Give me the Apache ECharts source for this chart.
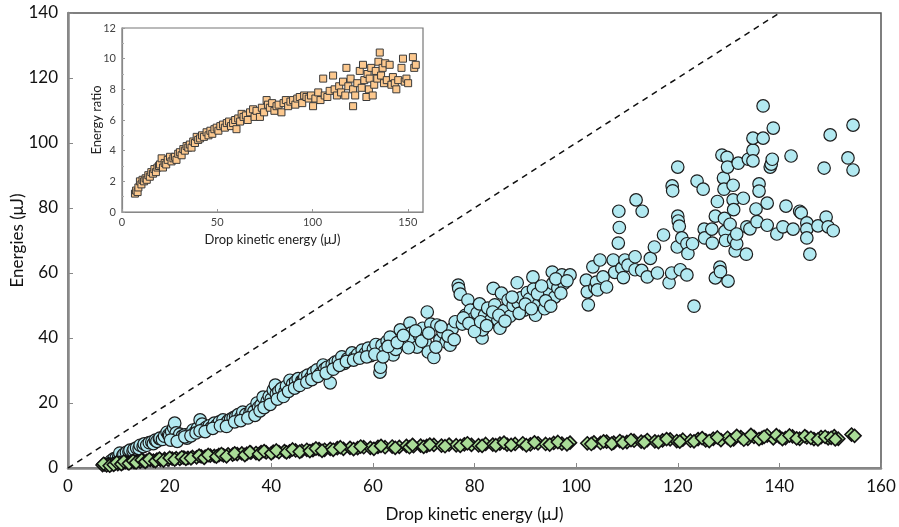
<!DOCTYPE html>
<html>
<head>
<meta charset="utf-8">
<script src="https://cdn.jsdelivr.net/npm/echarts@6/dist/echarts.min.js"></script>
<style>
  html, body { margin: 0; padding: 0; background: #fff; }
  #main { width: 899px; height: 527px; }
</style>
</head>
<body>
<div id="main"></div>
<script>
// main panel: light blue circles (upper cloud)
const circles = [
  [8.5,2.2],[9,2.8],[9.5,3.1],[10,3.5],[10.2,4.6],[10.8,3.8],[11,4.2],[11.5,4.8],[12,5],[12.2,5.5],[12.8,5.2],[13,5.8],
  [13.5,6.2],[14,6],[14.2,7],[14.8,6.6],[15,7.4],[15.5,7],[16,7.8],[16.5,8],[16.8,7.5],[17.2,8.6],[17.5,8.2],[18,9],
  [18.1,9.2],[18.6,8.8],[19,9.8],[19.5,11],[19.8,10.2],[20,10],[20.4,11.2],[20.8,12.4],[21,13.8],[21.3,10.8],[21.7,9.5],
  [22,10.4],[22.5,9.8],[23,10.2],[23.4,9.2],[24,10.6],[24.6,11.7],[25,11],[25.5,12.2],[26,14.8],[26.4,13.5],[26.8,12],
  [27.3,12.6],[27.8,13],[28.2,12.4],[28.8,13.8],[29.3,13.2],[29.8,14.2],[30.5,14.8],[31,13.6],[31.5,14.5],[32,15],
  [32.5,15.4],[33,15.8],[33.5,16.4],[34,15.6],[34.4,17.2],[35,16.5],[35.8,16.9],[36.2,18],[36.6,17.4],[37.2,20],
  [37.5,18.6],[38,19.4],[38.4,21.8],[38.8,19],[39.2,20.6],[39.6,22],[40,21.2],[40.4,24],[40.8,25.5],[41,22.8],
  [41.5,23.6],[42,24.4],[42.7,23.4],[43,25.2],[43.7,27],[44.2,25.8],[44.8,26.6],[45.3,27.5],[46,26.8],[46.3,27],
  [46.6,28],[47.2,28.6],[47.8,27.8],[48.3,29.4],[49,30.2],[49.6,29],[50.2,31.7],[50.5,30.4],[51,31],[51.6,26.2],
  [52,31.8],[52.6,32.6],[53.2,33],[53.9,34.2],[54.4,32.2],[55,33.6],[55.9,35.4],[56.4,34],[57,35],[57.9,36.3],
  [58.5,35.2],[59.1,36.9],[59.6,34.6],[60.1,36.6],[60.6,38],[61.4,29.5],[61.5,31],[61.8,37.8],[62.3,36],[62.8,39],
  [63.4,40.3],[64,34.8],[64.5,36.5],[65.4,42.5],[65.8,39.5],[66.4,38],[67.3,44.6],[67.5,41.5],[68,39.8],[68.7,37.2],
  [69.2,40.6],[69.8,43],[70.3,38.6],[70.7,48],[70.9,35.7],[71.4,44.3],[72,34],[72.6,44],[73.2,39.5],[73.8,41.8],
  [74.4,38.8],[75.2,37.8],[75.6,42.8],[76.2,45],[76.8,56.3],[76.9,55.2],[77.2,53.5],[77.6,44.3],[78.2,47],[78.7,51.7],
  [79.2,48.6],[79.8,46],[80.5,47.7],[81,50.5],[81.5,40],[81.6,42.5],[82,47],[82.6,49.2],[83.2,45.5],[83.7,55.3],
  [84,50.2],[84.6,45.5],[85,43],[85.3,53.8],[85.8,48.4],[86.6,51.7],[87,46.7],[87.6,50],[88.4,57],[88.6,50.8],
  [89.2,52.4],[89.8,48.6],[90.4,54],[90.8,52],[91.5,58.8],[91.6,55],[92,47],[92.6,50.4],[93.5,52.6],[93.8,49],
  [94.5,54.6],[95.3,60.3],[95.4,56.8],[95.8,52.6],[96.4,55.4],[97.2,59.4],[97.6,56.8],[98.8,59.4],
  [20.2,8.6],[21.5,8.2],[23,9.6],[24.2,9.9],[25.2,10.8],[26,11.4],[27,11.2],[28.5,12.2],[30,13],[31.2,12.8],
  [32.8,14.2],[34,14.6],[35.4,15.4],[36.8,16.2],[37.8,17.6],[38.6,18.6],[39.8,19.6],[41.2,21.2],[42.4,22],[43.4,23.6],
  [44.6,24.6],[45.6,25.4],[47,26.4],[48,27.2],[49.2,28.2],[50.8,29.2],[52.2,30.4],[53.4,31.6],[54.8,32.8],[56.2,33.2],
  [57.4,33.8],[58.8,34.2],[60.4,35],[62,34.2],[63,37.4],[64.8,38.6],[66,40.8],[67,37],[68.4,42.2],[69.6,39],[71,41.5],
  [72.4,37.2],[73.4,43.5],[74.8,40.6],[76,39.5],[77.8,46.2],[78.9,44.5],[80,42],[81.2,45],[82.4,43.8],[83.6,48],
  [84.8,47],[86,45.2],[87.4,52.6],[88.8,47.6],[90,50.4],[91.2,49],[92.4,53.6],[93.2,56],[94,51.4],[95,49.8],[96,58.2],
  [97,53.8],[98.2,57.6],
  [102,57.8],[102.2,54.2],[102.4,50.2],[103.3,61.9],[103.7,55.6],[104,57.2],[104.2,54.8],[104.7,64],[105.3,58.8],
  [106,55.7],[107.3,64],[107.6,60.2],[108.3,69.2],[108.4,79],[108.5,74],[109,61.5],[109.3,58.6],[109.6,64],
  [110.2,62.4],[111.6,65],[111.6,61],[111.8,82.5],[112.9,60.8],[113,79],[114,58.8],[114.6,64.5],[115.4,68],[116,60],
  [117.2,71.7],[118.3,57],[118.8,60],[118.9,86.8],[119,85.3],[119.9,68],[120,92.6],[120,77.5],[120.1,76],[120.3,74.4],
  [120.5,61],[120.8,70.8],[121.8,59.4],[121.8,69],[122,66],[122.9,69],[123.2,49.8],[123.8,88.3],[125,85.8],
  [125.2,73.5],[125.3,70.8],[126.7,73.5],[126.8,69.2],[127.4,77.5],[127.4,58.5],[127.8,82],[128.3,61.8],[128.4,60.4],
  [128.7,96.3],[129,89.2],[129.1,85.8],[129.2,76.8],[129.3,72.8],[129.4,70],[129.7,95.6],[129.8,92.6],[129.9,57.5],
  [130.3,75],[130.9,87],[130.9,82.5],[131,79.5],[131,70.5],[131.3,66.8],[131.6,69],[131.6,72],[131.9,93.8],[132.9,83],
  [133.5,65.8],[133.6,74.2],[133.9,95],[134.2,73.6],[134.8,97.8],[134.8,94.5],[134.8,101.5],[135.4,79.7],[135.6,75.8],
  [136,87.4],[136,85.2],[136.8,111.4],[136.8,101.5],[137.6,81.5],[137.6,74.7],[138.2,92.6],[138.4,93.5],[138.6,95],
  [138.8,104.6],[139.5,72],[140.7,74.2],[141.3,80.6],[142.3,96],[142.7,73.5],[144,79],[144.3,78.5],[145.4,75.4],
  [145.4,73.5],[145.4,70.8],[146,65.8],[147.6,74.5],[148.8,92.3],[149.2,77.2],[149.6,74.2],[150,102.5],[150.6,73],
  [153.5,95.4],[154.5,105.5],[154.5,91.7]
];

// main panel: green diamonds (lower band)
const diamonds = [
  [6.8,0.9],[7.2,1.1],[7.6,0.8],[8,1.2],[8.4,1.0],[8.8,1.3],[9.3,1.4],[9.8,1.2],[10.2,1.6],[10.8,1.5],[11.3,1.8],
  [11.8,1.6],[12.4,1.9],[13,1.8],[13.6,2.1],[14.2,2.0],[14.8,2.3],[15.5,2.2],[16.2,2.5],[16.8,2.3],[17.5,2.6],
  [18.2,2.5],[19,2.8],[19.7,2.6],[20.5,2.9],[21.3,3.0],[22,2.8],[22.8,3.2],[23.6,3.1],[24.5,3.4],[25.3,3.3],
  [26.2,3.6],[27,3.5],[28,3.8],[28.8,3.7],[29.7,4.0],[30.6,3.9],[31.5,4.2],[32.4,4.1],[33.3,4.3],[34.2,4.5],
  [35.2,4.4],[36,4.7],[37,4.6],[38,4.9],[39,4.8],[40.4,5.0],[41.5,4.9],[42.6,5.2],[43.6,5.1],[44.8,5.4],[46,5.3],
  [47,5.6],[48.2,5.5],[49.4,5.8],[50.5,5.6],[51.6,5.9],[53,6.1],[54.2,5.9],[55.5,6.2],[57,6.1],[58.2,6.4],[59.5,6.2],
  [61,6.5],[62.4,6.4],[63.8,6.6],[65.2,6.5],[66.6,6.8],[68,6.7],[69.4,6.9],[70.6,6.8],[72,7.1],[73.5,6.9],[75,7.2],
  [76.4,7.0],[78,7.3],[79.4,7.1],[80.8,7.0],[82.2,7.4],[83.6,7.2],[85,7.5],[86.4,7.2],[88,7.4],[89.5,7.6],[91,7.3],
  [92.5,7.6],[94,7.4],[95.6,7.7],[97.2,7.5],[98.8,7.8],
  [7,1.3],[8.2,0.7],[9,1.0],[9.6,1.7],[10.5,1.2],[11,2.0],[12,1.4],[12.8,2.2],[13.4,1.7],[14.5,2.5],[15.2,1.9],[16,2.7],
  [17.2,2.1],[18,2.9],[18.8,2.3],[20,3.1],[21,2.6],[22.4,3.3],[23.2,2.8],[24.2,3.0],[25.8,3.8],[26.8,3.1],[27.6,4.0],
  [29.2,3.5],[30.2,4.3],[31.2,3.6],[32.8,4.5],[34.8,4.0],[35.8,4.9],[37.6,4.3],[38.6,5.2],[40,4.5],[41,5.4],[43,4.8],
  [44.2,5.7],[45.6,5.0],[47.6,5.2],[48.8,6.0],[50,5.3],[52.2,5.6],[53.6,6.4],[56.2,5.8],[57.6,6.6],[60.2,5.9],[61.6,6.8],
  [64.4,6.2],[67.2,6.4],[67.8,7.1],[70,6.5],[71.2,7.2],[74.2,6.7],[77.2,6.8],[78.6,7.6],[81.5,6.8],[84.2,7.0],[85.8,7.8],
  [87.2,7.1],[90.2,7.0],[91.8,7.9],[94.8,7.2],[96.4,8.0],[98.2,7.3],
  [102.2,7.6],[103.5,7.9],[104.8,7.7],[106,8.1],[107.4,7.8],[108.6,8.3],[110,8.0],[111.4,8.4],[112.8,8.1],[114,8.6],
  [115.5,8.2],[117,8.5],[118.5,8.8],[119.8,8.3],[121,8.7],[122.5,8.4],[124,8.9],[125.5,8.5],[127,9.0],[128.5,8.6],
  [129.8,9.3],[131,8.8],[132.4,9.5],[133.8,9.0],[135,9.6],[136.6,9.3],[137.6,10.0],[138.8,9.1],[140,9.6],[141.2,9.2],
  [142.6,9.7],[144,9.0],[145.4,9.4],[146.8,8.9],[148.2,9.5],[149.6,9.1],[150.8,9.8],[151.6,9.0],[154.2,10.3],[154.8,9.9],
  [103,7.4],[105.4,8.2],[107,7.5],[109.2,7.8],[110.8,8.6],[113.4,7.9],[116.2,8.0],[117.8,8.9],[120.4,8.1],[123.2,8.2],
  [124.8,9.2],[126.2,8.3],[127.8,9.4],[130.4,8.5],[131.6,9.9],[133,8.7],[134.4,10.2],[136,8.9],[137,9.6],[139.4,10.1],
  [140.6,8.9],[142,10.0],[143.4,9.1],[145,9.8],[146.2,9.3],[147.6,8.8],[149,9.6],[150.2,9.3],[151,8.8]
];

// y = x reference
const unity = [[0, 0], [140, 140]];

// inset: energy ratio, orange squares
const squares = [
  [6.8,1.2],[7.4,1.4],[8.2,1.3],[8.6,1.6],[9.4,2.0],[10.2,1.8],[10.8,2.1],[11.6,2.0],[12.4,2.2],[13,2.1],[13.8,2.4],
  [14.6,2.3],[15.4,2.6],[16.3,2.5],[17,2.8],[17.8,2.6],[18.6,2.9],[19.4,3.0],[19.9,3.1],[20.8,3.5],[21.5,2.9],
  [22.4,3.2],[23.2,3.1],[24,3.4],[25.2,3.6],[26,3.3],[27,3.5],[27.8,3.6],[28.6,3.4],[29.5,3.8],[30.4,3.9],[31.3,3.7],
  [32.2,4.1],[33,4.0],[33.9,4.3],[34.8,4.2],[35.6,4.4],[36.5,4.2],[37.4,4.6],[38.3,4.5],[39.2,4.9],[40,4.7],[41,4.8],
  [42,5.0],[43,4.9],[44.4,5.2],[45.4,5.0],[46.4,5.3],[47.4,5.1],[48.5,5.4],[49.7,5.5],[50.6,5.3],[51.6,5.6],[53,5.7],
  [54,5.5],[55,5.8],[56.2,5.9],[57.2,5.6],[58.3,5.8],[59.4,6.0],[60.1,5.4],[61,6.1],[62,5.9],[62.8,6.4],[63.8,6.2],
  [65,6.3],[66,6.0],[67.2,6.5],[68.8,6.7],[69.6,6.2],[70.6,6.6],[72.4,6.2],[73.4,6.8],[74.6,6.5],[75.9,7.3],[76.6,7.0],
  [77.6,6.8],[78.8,7.1],[80,6.6],[81.1,6.9],[82.2,7.0],[83.7,6.5],[84.8,7.1],[86,7.3],[87.2,6.9],[88.4,7.2],[89.8,7.3],
  [91,7.0],[92,7.4],[93.3,7.5],[94.6,7.1],[95.6,7.6],[96.8,7.5],[98,7.4],[99.2,7.6],[100.3,6.9],[101.5,7.4],[103,7.8],
  [104.2,7.3],[105.6,8.7],[106.4,7.6],[107.8,7.5],[109,7.9],[110.8,8.9],[111.6,8.0],[112.8,7.6],[114,8.2],[115,7.8],
  [116,8.5],[117.2,7.6],[117.8,9.4],[118.8,8.2],[120,8.7],[121.3,6.9],[121.3,8.0],[122.4,7.6],[123.5,8.4],[124.8,9.2],
  [125.8,8.1],[126.5,9.6],[127.2,8.6],[128.3,7.5],[128.9,9.0],[129.6,8.0],[130,8.7],[130.8,9.4],[131.6,7.6],[132.4,8.3],
  [133.2,9.2],[134,8.7],[134.6,9.8],[135.3,10.4],[136,8.9],[136.8,9.4],[137.5,8.4],[138.2,9.7],[139,8.6],[140.5,9.6],
  [141.4,8.3],[142.2,8.8],[143.2,8.4],[144,8.0],[145,8.6],[146.7,9.4],[147.5,10.0],[148.4,8.5],[149.3,8.7],[150.2,8.4],
  [152.7,10.1],[153.4,9.4],[154.2,9.6]
];

const font = 'Lato, "Open Sans", sans-serif';
const chart = echarts.init(document.getElementById('main'));

chart.setOption({
  animation: false,
  backgroundColor: '#fff',
  grid: [
    { left: 68, top: 13, right: 18, bottom: 59, outerBoundsMode: 'none', containLabel: false,
      show: true, borderColor: '#555', borderWidth: 1.5, backgroundColor: 'transparent' },
    { left: 122, top: 28, width: 301, height: 184, outerBoundsMode: 'none', containLabel: false,
      show: true, borderColor: '#777', borderWidth: 1.2, backgroundColor: '#fff', z: 5 }
  ],
  xAxis: [
    {
      gridIndex: 0, type: 'value', min: 0, max: 160, interval: 20,
      name: 'Drop kinetic energy (μJ)', nameLocation: 'middle', nameGap: 38, nameMoveOverlap: false,
      nameTextStyle: { fontFamily: font, fontSize: 17, color: '#111' },
      axisLine: { lineStyle: { color: '#888', width: 2.5 } },
      axisTick: { inside: true, length: 5, lineStyle: { color: '#888', width: 1 } },
      axisLabel: { fontFamily: font, fontSize: 17, color: '#111', margin: 10 },
      splitLine: { show: false }
    },
    {
      gridIndex: 1, type: 'value', min: 0, max: 158, interval: 50, z: 6,
      name: 'Drop kinetic energy (μJ)', nameLocation: 'middle', nameGap: 21, nameMoveOverlap: false,
      nameTextStyle: { fontFamily: font, fontSize: 13, color: '#222' },
      axisLine: { lineStyle: { color: '#888', width: 1.2 } },
      axisTick: { inside: true, length: 3, lineStyle: { color: '#999' } },
      axisLabel: { fontFamily: font, fontSize: 11, color: '#444', margin: 5, showMaxLabel: false },
      splitLine: { show: false }
    }
  ],
  yAxis: [
    {
      gridIndex: 0, type: 'value', min: 0, max: 140, interval: 20,
      name: 'Energies (μJ)', nameLocation: 'middle', nameGap: 42, nameMoveOverlap: false,
      nameTextStyle: { fontFamily: font, fontSize: 17, color: '#111' },
      axisLine: { lineStyle: { color: '#888', width: 2.5 } },
      axisTick: { inside: true, length: 5, lineStyle: { color: '#888', width: 1 } },
      axisLabel: { fontFamily: font, fontSize: 17, color: '#111', margin: 10 },
      splitLine: { show: false }
    },
    {
      gridIndex: 1, type: 'value', min: 0, max: 12, interval: 2, z: 6,
      name: 'Energy ratio', nameLocation: 'middle', nameGap: 19, nameMoveOverlap: false,
      nameTextStyle: { fontFamily: font, fontSize: 13, color: '#222' },
      axisLine: { lineStyle: { color: '#888', width: 1.2 } },
      axisTick: { inside: true, length: 3, lineStyle: { color: '#999' } },
      minorTick: { show: true, splitNumber: 2, length: 2, lineStyle: { color: '#aaa' } },
      axisLabel: { fontFamily: font, fontSize: 11, color: '#444', margin: 6 },
      splitLine: { show: false }
    }
  ],
  series: [
    {
      type: 'line', xAxisIndex: 0, yAxisIndex: 0, data: unity,
      symbol: 'none', silent: true,
      lineStyle: { color: '#111', width: 1.5, type: [6, 5] }
    },
    {
      type: 'scatter', xAxisIndex: 0, yAxisIndex: 0, data: circles,
      symbol: 'circle', symbolSize: 12.5,
      itemStyle: { color: '#b2e9f1', borderColor: '#1c1c1c', borderWidth: 1.2, opacity: 1 }
    },
    {
      type: 'scatter', xAxisIndex: 0, yAxisIndex: 0, data: diamonds,
      symbol: 'diamond', symbolSize: [13, 13],
      itemStyle: { color: '#a9dc97', borderColor: '#111', borderWidth: 1.6, opacity: 1 }
    },
    {
      type: 'scatter', xAxisIndex: 1, yAxisIndex: 1, data: squares, z: 7,
      symbol: 'rect', symbolSize: 7,
      itemStyle: { color: '#fcc88e', borderColor: '#3a3a3a', borderWidth: 1, opacity: 1 }
    }
  ]
});
</script>
</body>
</html>
